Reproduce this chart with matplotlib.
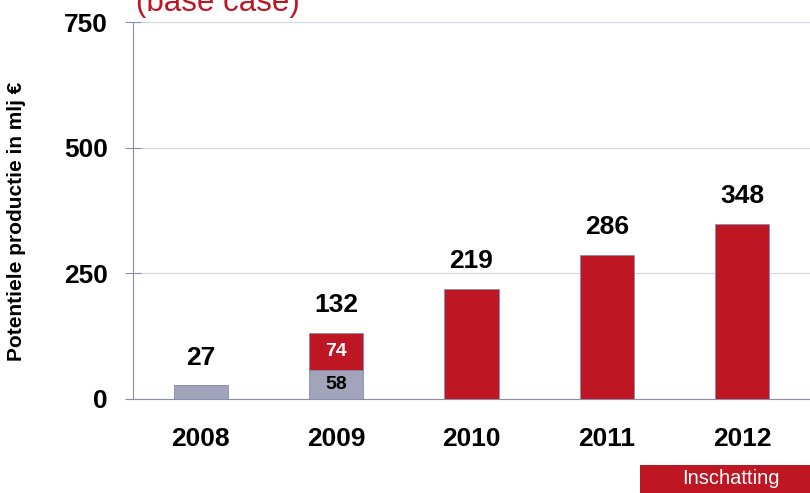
import matplotlib.pyplot as plt
from matplotlib.patches import Rectangle
import numpy as np

plt.rcParams['font.family'] = ['Liberation Sans', 'DejaVu Sans']

jaren = ['2008', '2009', '2010', '2011', '2012']
grijs = [27, 58, 0, 0, 0]
rood = [0, 74, 219, 286, 348]
totaal = [27, 132, 219, 286, 348]

kleur_rood = '#BE1622'
kleur_grijs = '#A2A4BC'
kleur_as = '#8a8cb0'

fig = plt.figure(figsize=(8.1, 4.93), dpi=100)
ax = fig.add_axes([133/810, 1 - 399/493, 677/810, 377/493])

x = np.arange(len(jaren))
ax.bar(x, grijs, width=0.4, color=kleur_grijs, edgecolor=kleur_as, linewidth=0.6, zorder=3)
ax.bar(x, rood, width=0.4, bottom=grijs, color=kleur_rood, edgecolor=kleur_as, linewidth=0.6, zorder=3)

for i, t in enumerate(totaal):
    ax.annotate(str(t), (x[i], t), xytext=(0, 15), textcoords='offset points',
                ha='center', va='baseline', fontsize=19, fontweight='bold')

# labels in de gestapelde balk 2009
ax.text(1, 58 + 74 / 2, '74', ha='center', va='center', color='white',
        fontsize=14, fontweight='bold', zorder=4)
ax.text(1, 58 / 2, '58', ha='center', va='center', color='black',
        fontsize=14, fontweight='bold', zorder=4)

ax.set_xlim(-0.5, 4.5)
ax.set_ylim(0, 750)
ax.set_yticks([0, 250, 500, 750])
ax.set_yticklabels(['0', '250', '500', '750'], fontsize=19, fontweight='bold')
ax.set_xticks(x)
ax.set_xticklabels(jaren, fontsize=19, fontweight='bold')
ax.tick_params(axis='x', length=0, pad=20)
ax.tick_params(axis='y', direction='inout', length=12, color=kleur_as, pad=12)
ax.yaxis.grid(True, color='#d4d4e2', linewidth=0.8, zorder=0)
ax.spines['top'].set_visible(False)
ax.spines['right'].set_visible(False)
ax.spines['left'].set_color(kleur_as)
ax.spines['bottom'].set_color(kleur_as)

fig.text(17/810, 1 - 221/493, 'Potentiele productie in mlj €', rotation=90,
         fontsize=15, fontweight='bold', ha='center', va='center')

fig.text(136/810, 1 - 11/493, '(base case)', color=kleur_rood, fontsize=22.5,
         ha='left', va='baseline')

fig.add_artist(Rectangle((640/810, 0), 170/810, 28/493, transform=fig.transFigure,
                         facecolor=kleur_rood, edgecolor='none'))
fig.text(731/810, 1 - 478/493, 'Inschatting', color='white', fontsize=14.5,
         ha='center', va='center')

fig.savefig('out.png', dpi=100)
